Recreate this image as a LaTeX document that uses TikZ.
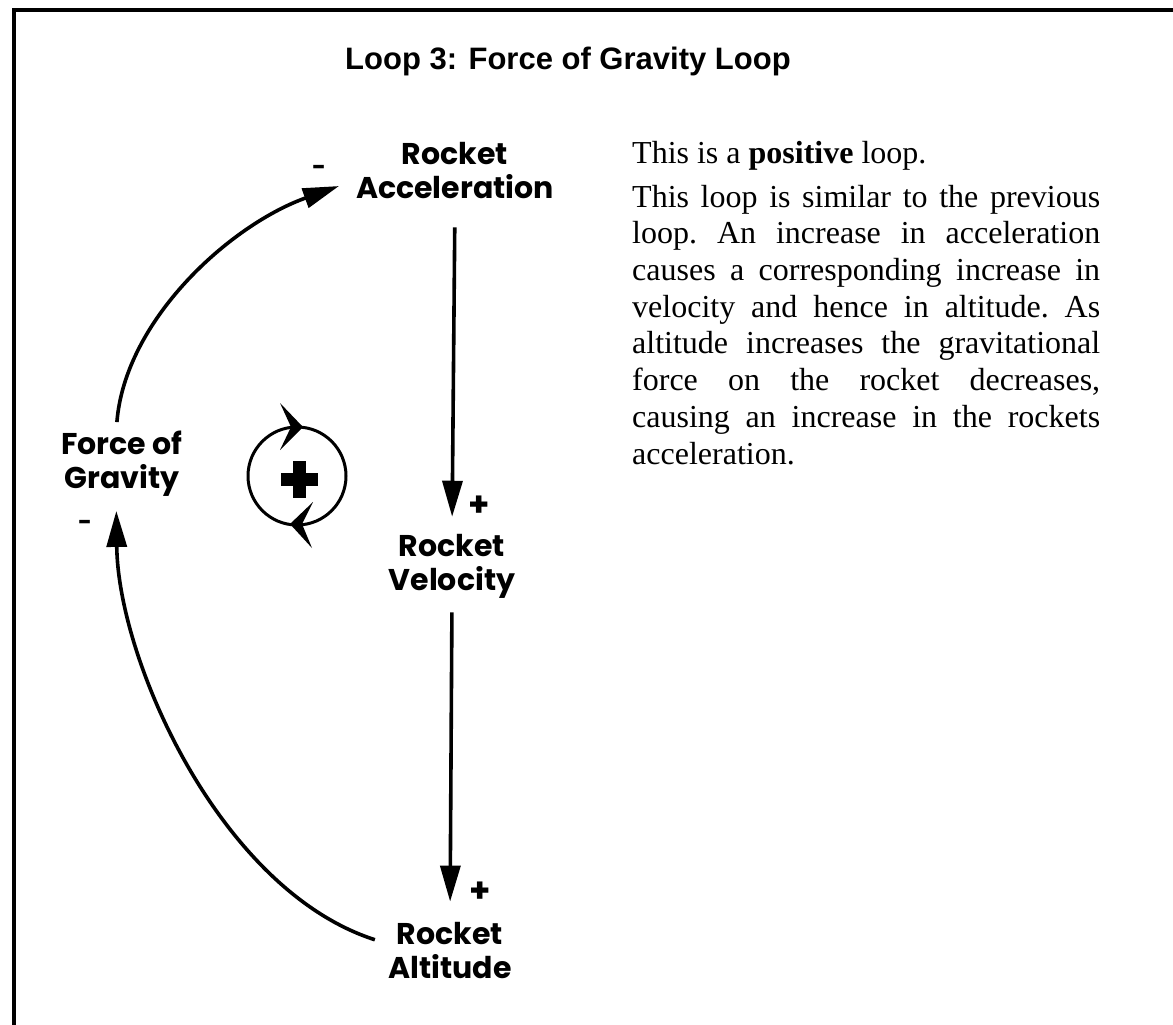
\documentclass[tikz,border=0pt]{standalone}
\usepackage{fontspec}
\setmainfont{Liberation Serif}
\setsansfont{Poppins}
\newfontfamily\titlefont{Liberation Sans}
\usetikzlibrary{arrows.meta}

\tikzset{
  lbl/.style={font=\sffamily\bfseries\fontsize{30}{34}\selectfont, align=center, inner sep=0pt},
  sgn/.style={font=\sffamily\bfseries\fontsize{24}{24}\selectfont, inner sep=0pt},
  pls/.style={font=\sffamily\bfseries\fontsize{34}{34}\selectfont, inner sep=0pt},
  link/.style={line width=3.6pt, -{Triangle[length=36pt,width=20pt]}},
}
\newcommand{\jline}[1]{\makebox[468pt][s]{#1}}

\begin{document}
\begin{tikzpicture}[x=1pt, y=-1pt]
                \useasboundingbox (0,0) rectangle (1173,1025);
                % 1. Frame and title
                \draw[line width=4pt] (14,1040) -- (14,10) -- (1190,10);
                \node[anchor=west, inner sep=0pt, font=\titlefont\bfseries\fontsize{31}{31}\selectfont] (title) at (345,61) {Loop 3: Force of Gravity Loop};

                % 2. The loop variables
                \node[lbl] (acc) at (455,171) {Rocket\\Acceleration};
                \node[lbl] (vel) at (452,566) {Rocket\\Velocity};
                \node[lbl] (alt) at (450,951) {Rocket\\Altitude};
                \node[lbl] (grav) at (122,464) {Force of\\Gravity};

                \draw[link, shorten <=28pt, shorten >=17pt] (acc.south) -- (vel.north);
                \draw[link, shorten <=14pt, shorten >=21pt] (vel.south) -- (alt.north);
                \draw[link, shorten <=14pt, shorten >=14pt] ([yshift=7pt]alt.west)
                    .. controls (220,890) and (118,660) .. (grav.260);
                \draw[link, shorten <=9pt, shorten >=18pt] (grav.100)
                    .. controls (125,320) and (230,225) .. ([yshift=-9pt]acc.west);

                \node[pls] (pv) at (479,506) {+};
                \node[pls] (pa) at (480,892) {+};
                \node[sgn] (mg) at (85,525) {-};
                \node[sgn] (ma) at (319,170) {-};

                % 3. Loop sign
                \draw[line width=3pt] (297,476) circle[radius=49pt];
                \fill (303,427) -- (280,403) -- (291,427) -- (280,450) -- cycle;
                \fill (290,524) -- (313,502) -- (302,524) -- (312,548) -- cycle;
                \fill (280.5,472.5) rectangle (317.5,485.5);
                \fill (292.5,460.5) rectangle (305.5,497.5);

                % 4. Explanation
                \node[anchor=north west, inner sep=0pt, align=left,
                      font=\rmfamily\frenchspacing\fontsize{32}{36.7}\selectfont] (desc) at (632,141) {%
                    This is a \textbf{positive} loop.\\[7pt]
                    \jline{This loop is similar to the previous}\\
                    \jline{loop. An increase in acceleration}\\
                    \jline{causes a corresponding increase in}\\
                    \jline{velocity and hence in altitude. As}\\
                    \jline{altitude increases the gravitational}\\
                    \jline{force on the rocket decreases,}\\
                    \jline{causing an increase in the rockets}\\
                    acceleration.};
            \end{tikzpicture}
\end{document}
